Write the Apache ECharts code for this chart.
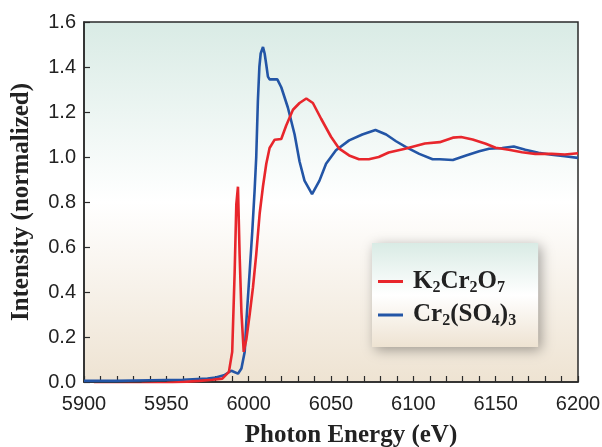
<!DOCTYPE html>
<html>
	<head>
		<meta charset="UTF-8">
		<title></title>
		<script src="https://cdn.jsdelivr.net/npm/echarts@6/dist/echarts.min.js"></script>
	</head>
	<body style="margin:0;background:#fff;">
		<div id="xanes_chart" style="width:602px;height:447px;"></div>
		<script>
			// 数据 K2Cr2O7
			var energy_k2cr2o7 = [5906, 5920, 5935, 5950, 5960, 5970, 5978, 5984, 5988, 5990, 5991.5, 5992.5, 5993.5, 5994.5, 5995.6, 5997, 5998.6, 6000.6, 6002.6, 6004.6, 6006.7, 6008.7, 6010.7, 6012.7, 6015.8, 6019.8, 6022.8, 6026.9, 6030.9, 6035, 6039, 6044, 6050, 6055, 6061, 6067, 6073, 6079, 6085, 6095, 6107, 6116, 6124, 6129, 6136, 6144, 6150, 6158, 6166, 6174, 6184, 6192, 6200];
			var int_k2cr2o7 = [-0.01, -0.01, -0.008, -0.005, 0.0, 0.005, 0.01, 0.015, 0.045, 0.134, 0.49, 0.79, 0.868, 0.567, 0.31, 0.134, 0.19, 0.30, 0.42, 0.567, 0.75, 0.87, 0.97, 1.04, 1.077, 1.08, 1.14, 1.21, 1.24, 1.26, 1.24, 1.17, 1.09, 1.037, 1.007, 0.99, 0.99, 1.0, 1.02, 1.037, 1.06, 1.066, 1.086, 1.089, 1.078, 1.059, 1.041, 1.032, 1.021, 1.014, 1.014, 1.011, 1.017];
			// 数据 Cr2(SO4)3
			var energy_cr2so43 = [5900, 5920, 5940, 5960, 5975, 5980, 5985, 5989.5, 5993.5, 5995.6, 5997.6, 5998.6, 6000.6, 6002.2, 6003.6, 6004.6, 6005.6, 6006.5, 6007.3, 6008.7, 6009.7, 6010.7, 6011.7, 6012.7, 6017.4, 6019.8, 6023.8, 6027.9, 6030.9, 6033.9, 6038.5, 6043, 6047, 6053, 6061, 6069, 6077, 6083.5, 6089.5, 6095.6, 6103.6, 6111.7, 6116, 6124, 6132, 6140, 6146, 6154, 6161, 6168, 6176, 6184, 6192, 6200];
			var int_cr2so43 = [0.005, 0.005, 0.008, 0.01, 0.015, 0.02, 0.03, 0.05, 0.037, 0.06, 0.134, 0.27, 0.49, 0.67, 0.85, 1.0, 1.25, 1.40, 1.46, 1.489, 1.46, 1.41, 1.357, 1.345, 1.345, 1.31, 1.22, 1.10, 0.98, 0.895, 0.835, 0.895, 0.97, 1.03, 1.074, 1.10, 1.12, 1.10, 1.07, 1.044, 1.014, 0.99, 0.99, 0.987, 1.007, 1.026, 1.037, 1.04, 1.047, 1.032, 1.019, 1.01, 1.003, 0.996];
			var series_names = ['K2Cr2O7', 'Cr2(SO4)3'];
			var legend_rich = {
				'K2Cr2O7': '{m|K}{s|2}{m|Cr}{s|2}{m|O}{s|7}',
				'Cr2(SO4)3': '{m|Cr}{s|2}{m|(SO}{s|4}{m|)}{s|3}'
			};

			function pairs(xs, ys) {
				var out = [];
				for (var i = 0; i < xs.length; i++) {
					out.push([xs[i], ys[i]]);
				}
				return out;
			}

			var bgGradient = {
				type: 'linear', x: 0, y: 0, x2: 0, y2: 1,
				colorStops: [
					{offset: 0, color: '#d9ebe5'},
					{offset: 0.5, color: '#ffffff'},
					{offset: 1, color: '#eee3d2'}
				]
			};

			var option_xanes = {
				animation: false,
				grid: {
					left: 84, right: 24, top: 22, bottom: 65,
					outerBoundsMode: 'none',
					show: true,
					backgroundColor: bgGradient,
					borderColor: '#2a2a2a',
					borderWidth: 1.5
				},
				legend: {
					orient: 'vertical',
					left: 372, top: 243,
					padding: [26, 22, 18, 6],
					itemWidth: 25, itemHeight: 3,
					itemGap: 7,
					icon: 'rect',
					backgroundColor: bgGradient,
					shadowColor: 'rgba(0,0,0,0.35)',
					shadowBlur: 12,
					shadowOffsetX: 3,
					shadowOffsetY: 3,
					data: series_names,
					formatter: function (name) {
						return legend_rich[name];
					},
					textStyle: {
						padding: [0, 0, 0, 5],
						rich: {
							m: {fontFamily: 'Liberation Serif', fontWeight: 'bold', fontSize: 25, lineHeight: 28, color: '#222'},
							s: {fontFamily: 'Liberation Serif', fontWeight: 'bold', fontSize: 16, lineHeight: 12, verticalAlign: 'bottom', color: '#222'}
						}
					}
				},
				xAxis: {
					type: 'value',
					min: 5900, max: 6200, interval: 50,
					name: 'Photon Energy (eV)',
					nameLocation: 'middle',
					nameGap: 41,
					nameTextStyle: {fontFamily: 'Liberation Serif', fontWeight: 'bold', fontSize: 25, color: '#222', padding: [0, 0, 0, 40]},
					axisLine: {lineStyle: {color: '#2a2a2a', width: 1.5}},
					axisTick: {inside: true, length: 6, lineStyle: {color: '#2a2a2a', width: 1.2}},
					minorTick: {show: true, splitNumber: 5, length: 6, lineStyle: {color: '#2a2a2a', width: 1.2}},
					axisLabel: {
						fontFamily: 'Liberation Sans', fontSize: 20, color: '#222', margin: 12,
						formatter: function (v) { return String(v); }
					},
					splitLine: {show: false}
				},
				yAxis: {
					type: 'value',
					min: 0, max: 1.6, interval: 0.2,
					name: 'Intensity (normalized)',
					nameLocation: 'middle',
					nameGap: 50,
					nameTextStyle: {fontFamily: 'Liberation Serif', fontWeight: 'bold', fontSize: 25, color: '#222'},
					axisLine: {show: true, lineStyle: {color: '#2a2a2a', width: 1.5}},
					axisTick: {show: true, inside: true, length: 6, lineStyle: {color: '#2a2a2a', width: 1.2}},
					axisLabel: {
						fontFamily: 'Liberation Sans', fontSize: 20, color: '#222', margin: 8,
						formatter: function (v) { return v.toFixed(1); }
					},
					splitLine: {show: false}
				},
				series: [
					{
						name: series_names[0],
						type: 'line',
						showSymbol: false,
						clip: true,
						lineStyle: {color: '#e8262c', width: 2.6},
						itemStyle: {color: '#e8262c'},
						data: pairs(energy_k2cr2o7, int_k2cr2o7),
						z: 3
					},
					{
						name: series_names[1],
						type: 'line',
						showSymbol: false,
						clip: true,
						lineStyle: {color: '#2355a6', width: 2.6},
						itemStyle: {color: '#2355a6'},
						data: pairs(energy_cr2so43, int_cr2so43),
						z: 2
					}
				]
			};

			var myChart = echarts.init(document.getElementById('xanes_chart'));
			myChart.setOption(option_xanes);
		</script>
	</body>
</html>
